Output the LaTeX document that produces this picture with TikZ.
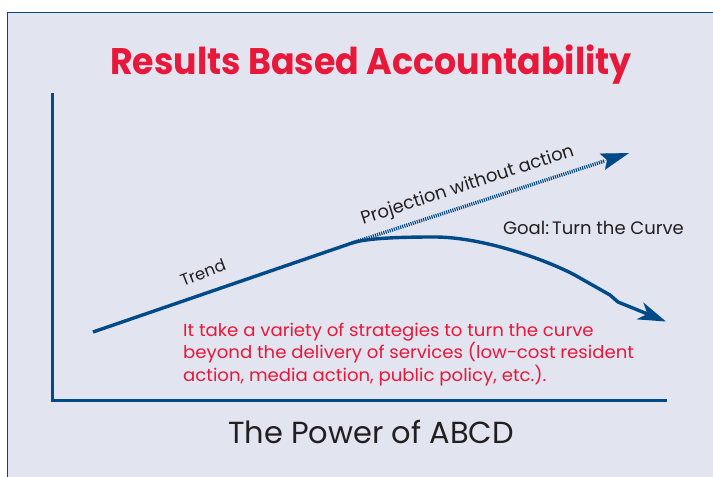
\documentclass[tikz,border=0pt]{standalone}
\usepackage{fontspec}
\setmainfont{Poppins}
\newfontfamily\titlefont[FakeStretch=0.94]{Poppins}
\newfontfamily\bodyfont[FakeStretch=1.035]{Poppins}
\usetikzlibrary{arrows.meta,calc}
\definecolor{bg}{HTML}{E2E4F0}
\definecolor{rbared}{HTML}{E8183A}
\definecolor{rbablue}{HTML}{004B87}
\definecolor{ink}{HTML}{231F20}
\tikzset{
  axisline/.style={draw=rbablue, line width=3pt},
  curveline/.style={draw=rbablue, line width=3.4pt},
  projline/.style={draw=rbablue, line width=3.6pt, dash pattern=on 1.1pt off 1.1pt},
  label/.style={text=ink, inner sep=0pt, anchor=base},
  redtext/.style={text=rbared, inner sep=0pt, anchor=north west, align=left, font=\bodyfont\fontsize{17.5}{22.5}\selectfont},
}
\begin{document}
\begin{tikzpicture}[x=1pt,y=-1pt]
\useasboundingbox (0,0) rectangle (713,477);
\fill[white] (0,0) rectangle (713,477);
\fill[bg] (7.5,12.5) rectangle (713,477);
\draw[rbablue, line width=1.3pt] (7.5,477) -- (7.5,12.5) -- (713,12.5);
% title
\node[text=rbared, inner sep=0pt, anchor=base, font=\titlefont\bfseries\fontsize{37}{40}\selectfont] (title) at (371,74) {Results Based Accountability};
% axes
\coordinate (ytop) at (52,93);
\coordinate (orig) at (52,400);
\coordinate (xend) at (667,400);
\draw[axisline] (ytop) -- (orig) -- (xend);
% curve
\coordinate (start) at (93,332);
\coordinate (bend) at (352,243);
\coordinate (peak) at (433,237);
\coordinate (mid) at (580,278);
\coordinate (kinka) at (610,295);
\coordinate (kinkb) at (618,302);
\coordinate (goalend) at (666,321.5);
\coordinate (projend) at (629,153);
\coordinate (projhead) at ($(bend)!0.91!(projend)$);
\draw[projline] (bend) -- (projhead);
\draw[curveline, -{Stealth[length=28pt,width=18pt,inset=8pt]}] (start) -- (bend) .. controls (366,238.2) and (400,237) .. (peak) .. controls (485,236.5) and (555,263) .. (mid) -- (kinka) -- (kinkb) -- (goalend);
\draw[rbablue, line width=0.1pt, -{Stealth[length=28pt,width=17pt,inset=5pt]}] ($(bend)!0.89!(projend)$) -- (projend);
% labels
\node[label, rotate=18, font=\fontsize{18}{20}\selectfont] (proj) at (469,190) {Projection without action};
\node[label, anchor=base west, font=\fontsize{18}{20}\selectfont] (goal) at (503,234) {Goal:\,Turn the Curve};
\node[label, rotate=21, font=\fontsize{16.5}{18}\selectfont] (trend) at (205,278) {Trend};
\node[redtext] (note) at (183,322.5) {It take a variety of strategies to turn the curve\\beyond the delivery of services (low-cost resident\\action, media action, public policy, etc.).};
\node[label, font=\fontsize{30.5}{34}\selectfont] (sub) at (371,443) {The Power of ABCD};
\end{tikzpicture}
\end{document}
